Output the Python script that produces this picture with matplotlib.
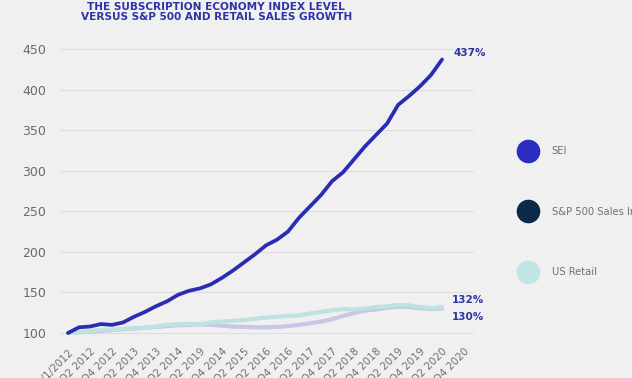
import numpy as np
import matplotlib.pyplot as plt
from matplotlib.lines import Line2D

# quarterly index levels, Q1 2012 .. Q3 2020
sei = [100, 107, 108, 111, 110, 113, 120, 126, 133, 139, 147, 152, 155, 160, 168, 177, 187, 197,
       208, 215, 225, 242, 256, 270, 287, 298, 314, 330, 344, 358, 381, 392, 404, 418, 437]
sp500 = [100, 101, 101.5, 102.5, 103.5, 104.5, 105.5, 106.5, 107.5, 108.5, 109.5, 110, 110.5, 110,
         109, 108, 107.5, 107, 107, 107.5, 108.5, 110, 112, 114, 117, 121, 124.5, 127.5, 129, 131,
         132.5, 132, 130.5, 129.5, 130]
retail = [100, 101, 102.5, 103.7, 104.2, 105, 105.8, 106.5, 108, 110, 110.8, 111, 111, 113, 114,
          115, 116, 117.5, 119, 120, 121, 121.5, 124, 126, 128, 129.5, 129, 130, 132, 133, 134.5,
          134, 132, 130.5, 132]
tick_labels = ["1/1/2012", "Q2 2012", "Q4 2012", "Q2 2013", "Q4 2013", "Q2 2014", "Q2 2019",
               "Q4 2014", "Q2 2015", "Q2 2016", "Q4 2016", "Q2 2017", "Q4 2017", "Q2 2018",
               "Q4 2018", "Q2 2019", "Q4 2019", "Q2 2020", "Q4 2020"]
legend_names = ["SEI", "S&P 500 Sales Index", "US Retail"]
end_labels = ["437%", "132%", "130%"]

bg = "#f0f0f0"
c_sei = "#2a2db3"
c_sp = "#c6c8e6"
c_retail = "#bce3e0"
c_txt = "#2e33a8"

fig = plt.figure(figsize=(6.32, 3.78), dpi=100, facecolor=bg)
ax = fig.add_axes([0.0949, 0.0976, 0.655, 0.7836], facecolor=bg)

x = np.arange(len(sei))
ax.plot(x, sp500, color=c_sp, lw=3, solid_capstyle="round", zorder=2)
ax.plot(x, retail, color=c_retail, lw=3, solid_capstyle="round", zorder=3)
ax.plot(x, sei, color=c_sei, lw=2.7, solid_capstyle="round", zorder=4)

ax.set_xlim(-0.73, 36.9)
ax.set_ylim(90, 455)
ax.set_yticks(range(100, 451, 50))
ax.set_xticks(np.arange(len(tick_labels)) * 2)
ax.set_xticklabels(tick_labels, rotation=45, ha="right", rotation_mode="anchor",
                   fontsize=7.5, color="#707070")
ax.tick_params(axis="y", length=0, pad=10, labelsize=9, labelcolor="#6a6a6a")
ax.tick_params(axis="x", length=0, pad=4)
ax.grid(axis="y", color="#dedede", lw=0.8)
for s in ax.spines.values():
    s.set_visible(False)

ax.annotate(end_labels[0], (x[-1], sei[-1]), xytext=(8, 5), textcoords="offset points",
            fontsize=7.5, fontweight="bold", color=c_txt, va="center")
ax.annotate(end_labels[1], (x[-1], retail[-1]), xytext=(7, 5), textcoords="offset points",
            fontsize=7.5, fontweight="bold", color=c_txt, va="center")
ax.annotate(end_labels[2], (x[-1], sp500[-1]), xytext=(7, -6), textcoords="offset points",
            fontsize=7.5, fontweight="bold", color=c_txt, va="center")

fig.text(0.342, 0.995, "THE SUBSCRIPTION ECONOMY INDEX LEVEL\nVERSUS S&P 500 AND RETAIL SALES GROWTH",
         ha="center", va="top", fontsize=7.6, fontweight="heavy", color=c_txt, linespacing=1.05)

handles = [Line2D([], [], ls="", marker="o", ms=16, mfc=c, mec=c)
           for c in ["#2a2dc0", "#0b2a4a", "#bfe6e3"]]
fig.legend(handles, legend_names, loc="upper left", bbox_to_anchor=(0.811, 0.637),
           frameon=False, fontsize=7.2, labelcolor="#707070", labelspacing=5.05,
           handlelength=1.2, handletextpad=1.8)

fig.savefig("out.png", dpi=100, facecolor=bg)
